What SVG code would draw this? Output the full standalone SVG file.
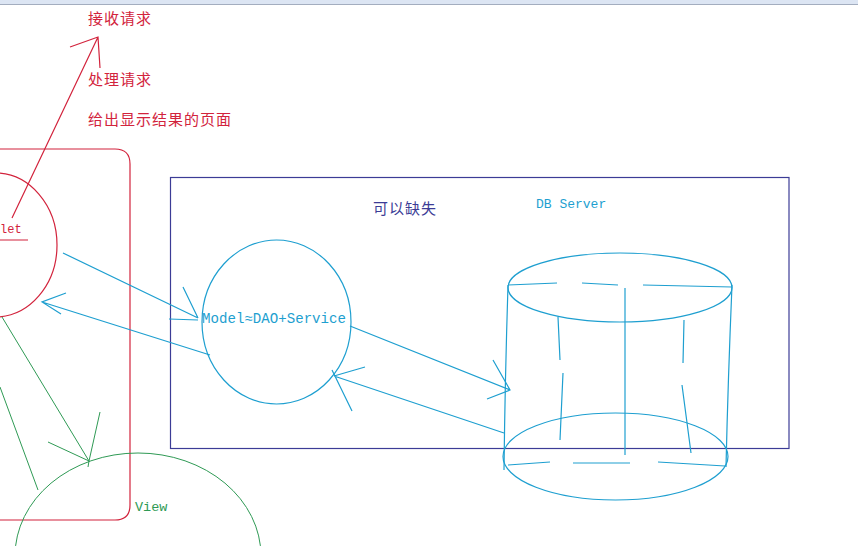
<svg xmlns="http://www.w3.org/2000/svg" width="858" height="546" viewBox="0 0 858 546">
<style>
  .red{stroke:#d2233c;fill:none;stroke-width:1.2}
  .cy{stroke:#1e9fd0;fill:none;stroke-width:1.2}
  .gr{stroke:#2f9a55;fill:none;stroke-width:1}
  .nv{stroke:#3c3c96;fill:none;stroke-width:1.2}
  .cn{font-family:"Noto Sans CJK SC","Noto Sans",sans-serif;font-size:15px}
  .mono{font-family:"Liberation Mono",monospace}
</style>
<rect x="0" y="0" width="858" height="546" fill="#ffffff"/>
<rect x="0" y="0" width="858" height="4" fill="#dce5f3"/>
<line x1="0" y1="4.5" x2="858" y2="4.5" stroke="#a3adbf" stroke-width="1"/>

<g id="controller-box">
  <path class="red" d="M-5,149 H115 Q130,149 130,164 V505 Q130,520 115,520 H-5"/>
</g>
<g id="db-server-box">
  <rect class="nv" x="170.5" y="177.5" width="618.5" height="271"/>
  <text class="cn" x="373" y="214" fill="#3c3c96" letter-spacing="1">可以缺失</text>
  <text class="mono" x="536" y="208" font-size="13" fill="#1e9fd0">DB Server</text>
</g>
<g id="servlet">
  <ellipse class="red" cx="-5" cy="245" rx="62" ry="72"/>
  <text class="mono" x="0" y="233" font-size="12" fill="#d2233c">let</text>
  <line class="red" x1="-5" y1="240" x2="28" y2="240"/>
</g>
<g id="model">
  <ellipse class="cy" cx="276.5" cy="322" rx="74.5" ry="82"/>
  <text class="mono" x="202" y="323" font-size="14" fill="#1e9fd0" textLength="144" lengthAdjust="spacingAndGlyphs">Model≈DAO+Service</text>
</g>
<g id="view">
  <ellipse class="gr" cx="138" cy="556" rx="123" ry="103"/>
  <text class="mono" x="135" y="511" font-size="13.5" fill="#2f9a55">View</text>
</g>
<g id="database">
  <ellipse class="cy" cx="620" cy="287.5" rx="112" ry="34.5"/>
  <ellipse class="cy" cx="615.5" cy="456.5" rx="112.5" ry="43.5"/>
  <path class="cy" d="M508,285 Q505,380 504,470"/>
  <path class="cy" d="M732,285 Q728,380 726,467"/>
  <path class="cy" d="M508,285 L557,283 M582,283 L618,285 M643,285 L732,287"/>
  <path class="cy" d="M625,288 V455"/>
  <path class="cy" d="M558,317 L560,360 M563,373 L560,440"/>
  <path class="cy" d="M684,320 L683,363 M682,385 L691,453"/>
  <path class="cy" d="M508,465 L550,462 M573,463 L630,463 M658,462 L725,466"/>
</g>
<g id="labels">
  <text class="cn" x="88" y="24" fill="#d2233c" letter-spacing="1">接收请求</text>
  <text class="cn" x="88" y="85" fill="#d2233c" letter-spacing="1">处理请求</text>
  <text class="cn" x="88" y="125" fill="#d2233c" letter-spacing="1">给出显示结果的页面</text>
</g>
<g id="connectors">
  <path class="red" d="M12,218 L98,37 M70,47 L98,37 L100,68"/>
  <path class="cy" d="M63,253 L198,318 M183,287 L198,318 M169,319 L198,320"/>
  <path class="cy" d="M210,355 L42,302 M66,293 L42,302 L61,314"/>
  <path class="cy" d="M350,326 L510,390 M493,360 L510,390 L487,399"/>
  <path class="cy" d="M504,433 L334,376 M365,367 L334,376 M332,370 L352,411"/>
  <path class="gr" d="M2,317 L89,461 M100,412 L89,461 M48,442 L89,461 L88,467"/>
  <path class="gr" d="M0,387 L38,490"/>
</g>
</svg>
